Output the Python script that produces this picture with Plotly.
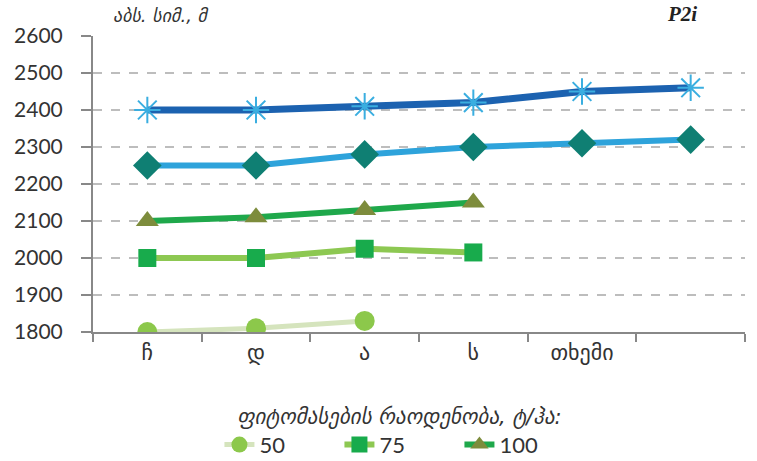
import plotly.graph_objects as go

categories = ["ჩ", "დ", "ა", "ს", "თხემი", " "]

s_star = [2400, 2400, 2410, 2420, 2450, 2460]
s_diamond = [2250, 2250, 2280, 2300, 2310, 2320]
s100 = [2100, 2110, 2130, 2150]
s75 = [2000, 2000, 2025, 2015]
s50 = [1800, 1810, 1830]

legend_title = "ფიტომასების რაოდენობა, ტ/ჰა:"
y_title = "აბს. სიმ., მ"
corner_label = "P2i"

fig = go.Figure()

fig.add_trace(go.Scatter(
    x=categories[:len(s50)], y=s50, name="50", mode="lines+markers",
    line=dict(color="#d5e4bd", width=5),
    marker=dict(symbol="circle", size=20, color="#8cc84b"),
))
fig.add_trace(go.Scatter(
    x=categories[:len(s75)], y=s75, name="75", mode="lines+markers",
    line=dict(color="#8dc852", width=6),
    marker=dict(symbol="square", size=18, color="#18ab4c"),
))
fig.add_trace(go.Scatter(
    x=categories[:len(s100)], y=s100, name="100", mode="lines+markers",
    line=dict(color="#1fa84b", width=6),
    marker=dict(symbol="triangle-up", size=20, color="#7d8c3c"),
))
fig.add_trace(go.Scatter(
    x=categories[:len(s_diamond)], y=s_diamond, name="d", mode="lines+markers",
    line=dict(color="#2ea3db", width=6),
    marker=dict(symbol="diamond", size=22, color="#0f7f73"),
    showlegend=False,
))
fig.add_trace(go.Scatter(
    x=categories[:len(s_star)], y=s_star, name="s", mode="lines+markers",
    line=dict(color="#1c62b0", width=7),
    marker=dict(symbol="asterisk-open", size=22, color="#3aaee0",
                line=dict(color="#3aaee0", width=2)),
    showlegend=False,
))

fig.update_layout(
    width=757, height=461,
    margin=dict(l=93, r=12, t=36, b=129),
    paper_bgcolor="white", plot_bgcolor="white",
    font=dict(family="Lato, DejaVu Sans, sans-serif", size=20, color="#333333"),
    xaxis=dict(
        type="category", categoryorder="array", categoryarray=categories,
        range=[-0.5, 5.5], tickson="boundaries",
        ticks="outside", ticklen=8, tickcolor="#888888", tickwidth=2,
        showline=True, linecolor="#888888", linewidth=2,
        showgrid=False, zeroline=False, automargin=False,
        tickfont=dict(family="DejaVu Sans", size=22, color="#333333"),
    ),
    yaxis=dict(
        range=[1800, 2600], dtick=100,
        ticks="outside", ticklen=10, tickcolor="#888888", tickwidth=2,
        showline=True, linecolor="#888888", linewidth=2,
        showgrid=True, gridcolor="#bdbdbd", griddash="dash", gridwidth=2,
        zeroline=False, automargin=False, ticklabelstandoff=14,
        tickfont=dict(family="Lato", size=21, color="#333333"),
    ),
    legend=dict(
        orientation="h", x=0.47, xanchor="center",
        yref="container", y=0.14, yanchor="top",
        title=dict(text=legend_title, side="top center",
                   font=dict(family="DejaVu Sans", size=21, color="#333333", style="italic")),
        font=dict(family="Lato", size=22, color="#333333"),
        entrywidth=75, entrywidthmode="pixels",
    ),
    annotations=[
        dict(text=y_title, xref="paper", yref="paper", x=0.028, y=1.0,
             xanchor="left", yanchor="bottom", showarrow=False, yshift=8,
             font=dict(family="DejaVu Sans", size=18, color="#333333", style="italic")),
        dict(text="<b><i>" + corner_label + "</i></b>", xref="paper", yref="paper",
             x=0.93, y=1.0, xanchor="right", yanchor="bottom", showarrow=False, yshift=8,
             font=dict(family="Liberation Serif", size=21, color="#222222")),
    ],
)

fig.write_html("out.html", config={"displayModeBar": False},
               post_script="document.body.style.margin='0';")
